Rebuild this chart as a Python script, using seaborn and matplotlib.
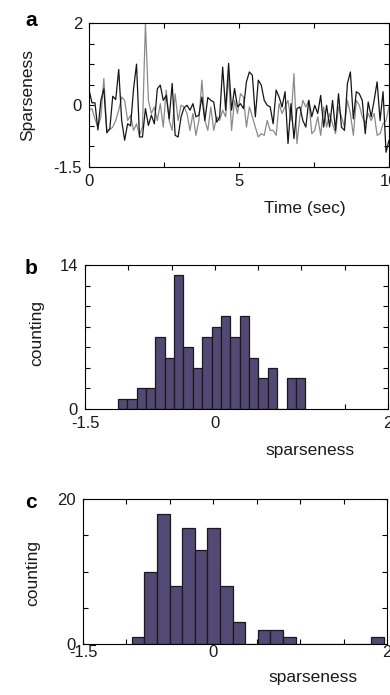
import numpy as np
import pandas as pd
import matplotlib
matplotlib.use("Agg")
import matplotlib.pyplot as plt
import seaborn as sns

# ---------------- data ----------------
black_series = [0.38, 0.06, 0.06, -0.6, 0.12, 0.4, -0.67, -0.57, 0.22, 0.14, 0.87, -0.37,
                -0.85, -0.45, -0.5, 0.4, 1.0, -0.77, -0.77, -0.08, -0.49, -0.24, -0.45, 0.4,
                0.49, 0.12, 0.24, -0.33, 0.53, -0.73, -0.77, -0.28, -0.06, 0.0, -0.12, 0.04,
                -0.28, -0.24, 0.2, -0.37, 0.19, 0.12, 0.08, -0.41, -0.28, 0.93, -0.12, 1.02,
                -0.12, 0.41, -0.04,
                0.04, -0.08, 0.57, 0.81, 0.73, -0.28, 0.61, 0.49, 0.12, 0.0, -0.04, -0.45,
                0.37, 0.2, -0.04, 0.33, -0.93, 0.04, -0.81, -0.08, -0.04, -0.37, -0.53, 0.12,
                -0.28, 0.0, -0.2,
                0.24, -0.53, 0.0, -0.53, 0.12, -0.61, 0.28, -0.53, -0.61, 0.53, 0.81, -0.33,
                0.33, 0.28, 0.12, -0.69, 0.08, -0.28, 0.12, 0.57, -0.37, 0.33, -1.14, -0.85]
gray_series = [-0.12, -0.08, -0.33, -0.53, -0.28, 0.65, -0.61, -0.59, -0.53, -0.37, -0.12, 0.2,
               0.12, -0.37, -0.24, -0.61, -0.45, -0.73, -0.53, 1.99, 0.12, -0.2, -0.04, -0.37,
               0.04, -0.53, 0.37, -0.37, -0.61, 0.28, -0.37, 0.0, -0.04, -0.2, -0.61, -0.2,
               -0.73, -0.37, 0.61, -0.37, -0.61, -0.04, -0.61, -0.28, -0.37, -0.12, -0.28, 0.73,
               -0.61, 0.12, -0.2,
               0.28, 0.2, -0.53, -0.04, -0.28, -0.53, -0.77, -0.69, -0.73, -0.37, -0.61, -0.61,
               -0.73, 0.04, -0.2, -0.04, 0.12, -0.37, 0.77, -0.93, -0.28, 0.12, -0.04, 0.12,
               -0.69, -0.61, -0.28,
               -0.73, -0.04, -0.53, -0.2, -0.45, -0.69, -0.04, -0.28, -0.53, 0.12, -0.2, -0.73,
               0.12, 0.0, -0.28, -0.45, -0.2, -0.37, -0.2, -0.73, -0.69, -0.45, -0.37, -0.04]
time_start, time_end = 0.0, 10.0

# histogram b
counts_b = [1, 1, 2, 2, 7, 5, 13, 6, 4, 7, 8, 9, 7, 9, 5, 3, 4, 0, 3, 3]
range_b = (-1.12, 1.044)
# histogram c
counts_c = [1, 10, 18, 8, 16, 13, 16, 8, 3, 0, 2, 2, 1, 0, 0, 0, 0, 0, 0, 1]
range_c = (-0.938, 1.965)

x_ticklabels_a = {0: "0", 5: "5", 10: "10"}
y_ticklabels_a = {2: "2", 0: "0", -1.5: "-1.5"}

# ---------------- style ----------------
sns.set_theme(style="white")
plt.rcParams["font.family"] = ["Liberation Sans", "DejaVu Sans"]
plt.rcParams["axes.linewidth"] = 0.8

W, H = 390, 695
fig = plt.figure(figsize=(W / 100, H / 100), dpi=100)

def rect(left, top, right, bottom):
    return [left / W, 1 - bottom / H, (right - left) / W, (bottom - top) / H]

BAR = "#524a74"
TICK_FS = 12
LABEL_FS = 12.5

def style_axes(ax, xticks, xlabels, yticks, ylabels, xpad=5):
    ax.set_xticks(xticks, xlabels)
    ax.set_yticks(yticks, ylabels)
    ax.tick_params(direction="in", length=3.5, width=0.8, top=True, right=True,
                   bottom=True, left=True, labelsize=TICK_FS, colors="black")
    ax.tick_params(axis="x", pad=xpad)
    ax.tick_params(axis="y", pad=5)
    for s in ax.spines.values():
        s.set_visible(True)
        s.set_color("black")
        s.set_linewidth(0.8)
    ax.tick_params(labelcolor="#1a1a1a")

def place_labels(ax, xlab, xpos, ylab, ypos):
    ax.set_ylabel(ylab, fontsize=LABEL_FS, color="#1a1a1a")
    ax.yaxis.set_label_coords(*ypos)
    ax.yaxis.label.set_va("center")
    ax.set_xlabel(xlab, fontsize=LABEL_FS, color="#1a1a1a")
    ax.xaxis.set_label_coords(*xpos)
    ax.xaxis.label.set_va("center")

# ---------------- panel a ----------------
axa = fig.add_axes(rect(89, 23, 389, 167))
t = np.linspace(time_start, time_end, len(black_series))
t2 = np.linspace(time_start, time_end, len(gray_series))
df_a = pd.DataFrame({"t": np.concatenate([t2, t]),
                     "v": gray_series + black_series,
                     "s": ["gray"] * len(gray_series) + ["black"] * len(black_series)})
sns.lineplot(data=df_a, x="t", y="v", hue="s", palette={"gray": "#8a8a8a", "black": "#151515"},
             ax=axa, legend=False, linewidth=0.9, estimator=None, sort=False)
axa.set_xlim(0, 10)
axa.set_ylim(-1.5, 2)
xt = [0, 2.5, 5, 7.5, 10]
yt = [-1.5, -1, -0.5, 0, 0.5, 1, 1.5, 2]
style_axes(axa, xt, [x_ticklabels_a.get(v, "") for v in xt],
           yt, [y_ticklabels_a.get(v, "") for v in yt])
place_labels(axa, "Time (sec)", (0.72, -0.285), "Sparseness", (-0.203, 0.5))

# ---------------- histograms ----------------
def hist_panel(box, counts, rng, ymax, ystep, xlab_pos, ylab_pos, xpad):
    ax = fig.add_axes(rect(*box))
    edges = np.linspace(rng[0], rng[1], len(counts) + 1)
    centers = (edges[:-1] + edges[1:]) / 2
    dfh = pd.DataFrame({"x": centers, "w": np.asarray(counts, dtype=float)})
    sns.histplot(data=dfh, x="x", weights="w", bins=list(edges), ax=ax, color=BAR, alpha=1,
                 edgecolor="#1a1a1a", linewidth=0.9)
    ax.set_xlim(-1.5, 2)
    ax.set_ylim(0, ymax)
    xt = [-1.5, -1, -0.5, 0, 0.5, 1, 1.5, 2]
    xl = {-1.5: "-1.5", 0: "0", 2: "2"}
    yt = list(np.arange(0, ymax + 0.01, ystep))
    yl = [str(int(v)) if v in (0, ymax) else "" for v in yt]
    style_axes(ax, xt, [xl.get(v, "") for v in xt], yt, yl, xpad=xpad)
    place_labels(ax, "sparseness", xlab_pos, "counting", ylab_pos)
    return ax

hist_panel((85, 265, 388, 409), counts_b, range_b, 14, 2, (0.743, -0.285), (-0.158, 0.53), 5)
hist_panel((83, 499, 387, 644), counts_c, range_c, 20, 5, (0.757, -0.228), (-0.164, 0.49), 0.5)

# panel letters
for letter, (px, py) in {"a": (31, 20), "b": (31, 268), "c": (31, 503)}.items():
    fig.text(px / W, 1 - py / H, letter, fontsize=15, fontweight="bold",
             ha="center", va="center", color="black")

fig.savefig("out.png", dpi=100)
